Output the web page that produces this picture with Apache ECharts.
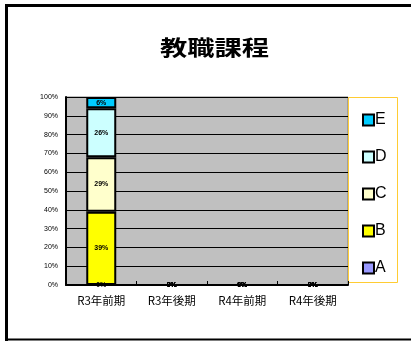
<!DOCTYPE html>
<html>
<head>
<meta charset="utf-8">
<script src="https://cdn.jsdelivr.net/npm/echarts@6/dist/echarts.min.js"></script>
<style>
html,body{margin:0;padding:0;background:#fff;overflow:hidden;}
#c{width:411px;height:341px;}
</style>
</head>
<body>
<div id="c"></div>
<script>
var categories = ['R3年前期', 'R3年後期', 'R4年前期', 'R4年後期'];
var seriesNames = ['A', 'B', 'C', 'D', 'E'];
var valuesA = [0, 0, 0, 0];
var valuesB = [39, 0, 0, 0];
var valuesC = [29, 0, 0, 0];
var valuesD = [26, 0, 0, 0];
var valuesE = [6, 0, 0, 0];
var seriesColors = ['#9999FF', '#FFFF00', '#FFFFCC', '#CCFFFF', '#00CCFF'];
var yTicks = [0, 10, 20, 30, 40, 50, 60, 70, 80, 90, 100];
var titleText = '教職課程';

var allValues = [valuesA, valuesB, valuesC, valuesD, valuesE];
var chart = echarts.init(document.getElementById('c'), null, {renderer: 'canvas'});

var series = seriesNames.map(function (name, i) {
  return {
    name: name,
    type: 'bar',
    stack: 'total',
    barWidth: 30,
    data: allValues[i],
    itemStyle: {color: seriesColors[i], borderColor: '#000', borderWidth: 2},
    label: {
      show: true,
      position: 'inside',
      formatter: '{c}%',
      fontSize: 7,
      fontWeight: 'bold',
      color: '#000',
      fontFamily: 'Arial, Liberation Sans, sans-serif'
    },
    emphasis: {disabled: true}
  };
});

chart.setOption({
  animation: false,
  graphic: [
    {type: 'line', shape: {x1: 6.5, y1: 4, x2: 6.5, y2: 341}, style: {stroke: '#000', lineWidth: 3}, z: 100},
    {type: 'line', shape: {x1: 5, y1: 5.5, x2: 411, y2: 5.5}, style: {stroke: '#000', lineWidth: 3}, z: 100},
    {type: 'line', shape: {x1: 5, y1: 339.5, x2: 411, y2: 339.5}, style: {stroke: '#000', lineWidth: 2}, z: 100},
    {type: 'rect', shape: {x: 348.5, y: 97.5, width: 49, height: 185}, style: {fill: '#fff', stroke: '#FFCC33', lineWidth: 1}, z: 0},
    {
      type: 'text', x: 214.5, y: 47, scaleX: 1.3, originX: 0, originY: 0,
      style: {text: titleText, fontSize: 21, fontWeight: 'bold', fill: '#000', fontFamily: 'Noto Sans CJK JP', align: 'center', verticalAlign: 'middle'},
      z: 100
    }
  ],
  legend: {
    data: ['E', 'D', 'C', 'B', 'A'],
    orient: 'vertical',
    left: 357,
    top: 107,
    itemGap: 21,
    itemWidth: 11,
    itemHeight: 11,
    icon: 'rect',
    itemStyle: {borderColor: '#000', borderWidth: 2},
    textStyle: {fontSize: 16, color: '#000', padding: [0, 0, 0, -4], fontFamily: 'Arial, Liberation Sans, sans-serif'},
    selectedMode: false
  },
  grid: {
    left: 66, right: 63, top: 97, bottom: 56,
    show: true,
    backgroundColor: '#C0C0C0',
    borderColor: '#808080',
    borderWidth: 1
  },
  xAxis: {
    type: 'category',
    data: categories,
    axisLine: {lineStyle: {color: '#000', width: 2}},
    axisTick: {show: true, inside: true, length: 4, lineStyle: {color: '#000'}},
    axisLabel: {fontSize: 11.5, color: '#000', margin: 10, fontFamily: 'Noto Sans CJK JP'}
  },
  yAxis: {
    type: 'value',
    min: 0,
    max: 100,
    interval: 10,
    axisLine: {show: true, lineStyle: {color: '#000', width: 2}},
    axisTick: {show: false},
    splitLine: {lineStyle: {color: '#000', width: 1}},
    axisLabel: {
      fontSize: 7, color: '#000', margin: 8,
      fontFamily: 'Arial, Liberation Sans, sans-serif',
      formatter: function (v) { return yTicks.indexOf(v) >= 0 ? v + '%' : ''; }
    }
  },
  series: series
});
</script>
</body>
</html>
